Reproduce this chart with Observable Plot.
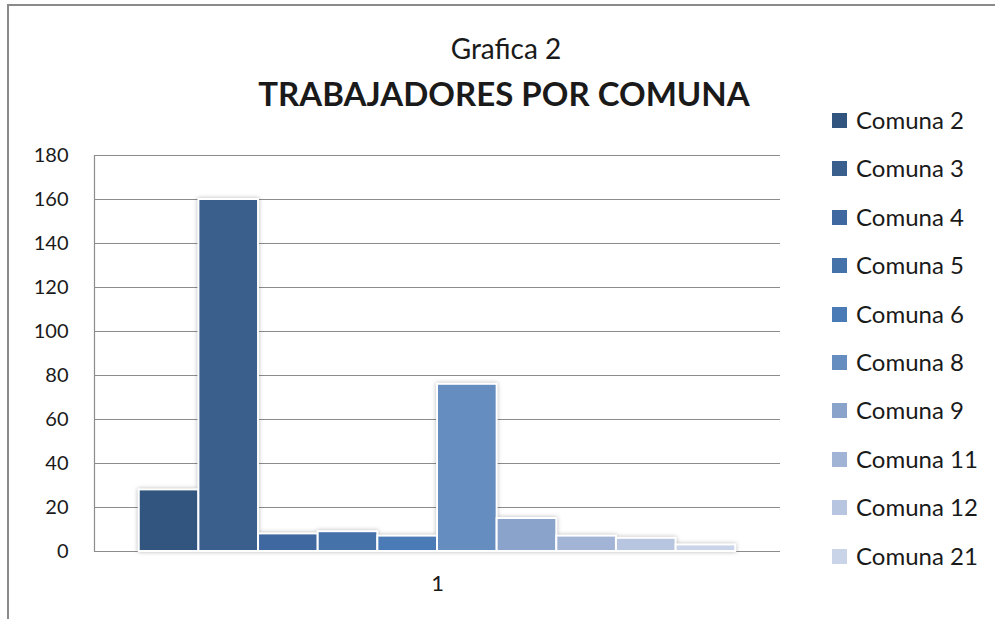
<!DOCTYPE html>
<html>
<head>
<meta charset="utf-8">
<script src="https://cdn.jsdelivr.net/npm/d3@7"></script>
<script src="https://cdn.jsdelivr.net/npm/@observablehq/plot@0.6"></script>
<style>
  html, body { margin: 0; padding: 0; background: #fff; overflow: hidden; }
  body { width: 995px; height: 619px; position: relative; font-family: Lato, "Noto Sans", sans-serif; color: #1a1a1a; }
  #frame { position: absolute; left: 7px; top: 4px; width: 1100px; height: 700px; border-left: 2px solid #8a8a8a; border-top: 2px solid #8a8a8a; }
  #t1 { position: absolute; left: 0; width: 1012px; top: 31px; text-align: center; font-size: 28px; }
  #t2 { position: absolute; left: 0; width: 1008px; top: 73px; text-align: center; font-size: 33px; font-weight: bold; }
  #chart { position: absolute; left: 0; top: 130px; }
  #legend { position: absolute; left: 832px; top: 106px; }
  .li { height: 48.4px; display: flex; align-items: flex-start; font-size: 24px; line-height: 28px; white-space: nowrap; }
  .sw { width: 15px; height: 15px; margin-right: 9px; margin-top: 7px; flex: none; }
  svg g[aria-label="bar"] { filter: drop-shadow(0px 0px 2px rgba(0,0,0,0.28)); }
</style>
</head>
<body>
<div id="frame"></div>
<div id="t1">Grafica 2</div>
<div id="t2">TRABAJADORES POR COMUNA</div>
<div id="chart"></div>
<div id="legend"></div>
<script>
const comunas = ["Comuna 2","Comuna 3","Comuna 4","Comuna 5","Comuna 6","Comuna 8","Comuna 9","Comuna 11","Comuna 12","Comuna 21"];
const trabajadores = [28, 160, 8, 9, 7, 76, 15, 7, 6, 3];
const colores = ["#31557e","#3a5f8d","#3f67a0","#4672aa","#4a7bb7","#658dc0","#89a3cb","#a1b4d6","#b7c5e0","#cad4e8"];
const yTicks = [0, 20, 40, 60, 80, 100, 120, 140, 160, 180];
const categoria = ["1"];

const data = comunas.map((c, i) => ({comuna: c, valor: trabajadores[i]}));

const plot = Plot.plot({
  width: 800,
  height: 490,
  marginLeft: 94,
  marginRight: 20,
  marginTop: 25,
  marginBottom: 69,
  style: {fontFamily: "Lato, 'Noto Sans', sans-serif", fontSize: "20px", color: "#1a1a1a", background: "transparent"},
  x: {domain: comunas, paddingInner: 0, paddingOuter: 0.75, round: false, axis: null},
  y: {domain: [0, 180], ticks: yTicks, label: null},
  color: {domain: comunas, range: colores},
  marks: [
    Plot.ruleY(yTicks, {stroke: "#8c8c8c", strokeWidth: 1.2}),
    Plot.frame({anchor: "left", stroke: "#8c8c8c", strokeWidth: 1.2}),
    Plot.axisY({ticks: yTicks, tickSize: 0, tickPadding: 26, fontSize: 20, label: null}),
    Plot.barY(data, {x: "comuna", y: "valor", fill: "comuna", stroke: "white", strokeWidth: 2}),
    Plot.text(categoria, {text: d => d, frameAnchor: "bottom", dy: 39, fontSize: 22, fill: "#1a1a1a"})
  ]
});
document.getElementById("chart").appendChild(plot);

const legend = document.getElementById("legend");
comunas.forEach((c, i) => {
  const row = document.createElement("div");
  row.className = "li";
  const sw = document.createElement("div");
  sw.className = "sw";
  sw.style.background = colores[i];
  const tx = document.createElement("span");
  tx.textContent = c;
  row.appendChild(sw);
  row.appendChild(tx);
  legend.appendChild(row);
});
</script>
</body>
</html>
